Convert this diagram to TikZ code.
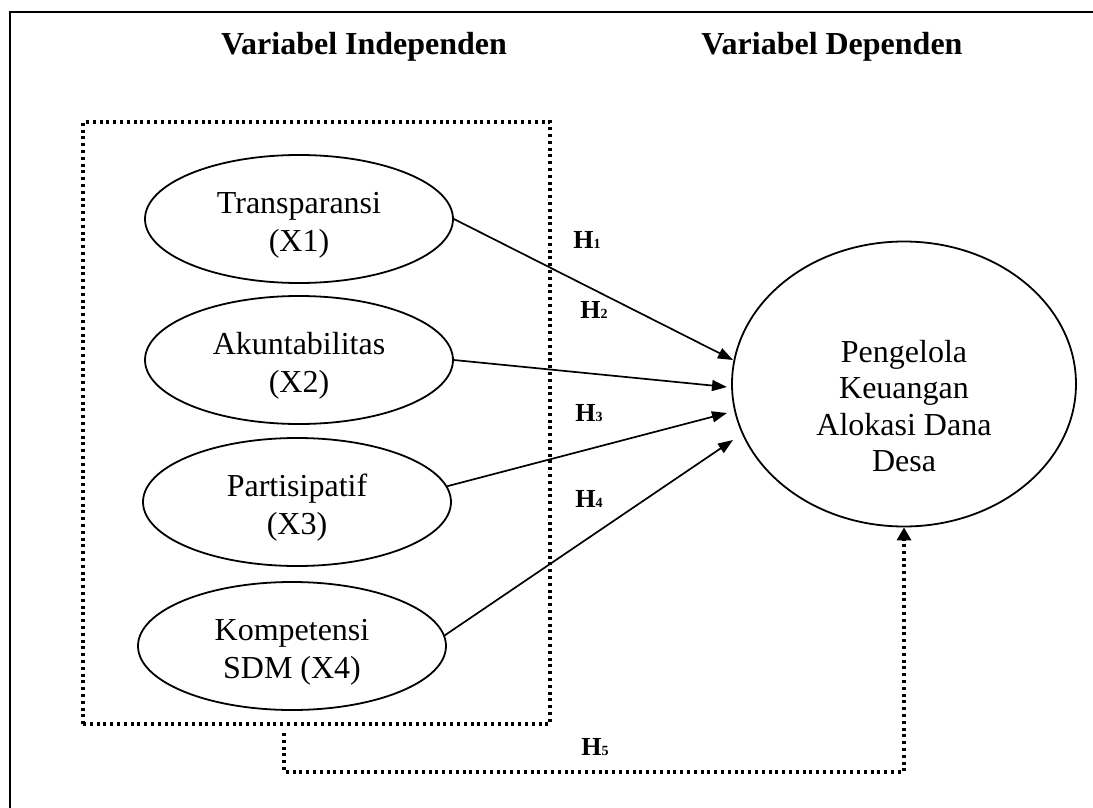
\documentclass[tikz,border=0pt]{standalone}
\usepackage{fontspec}
\setmainfont{Liberation Serif}
\usetikzlibrary{shapes.geometric, arrows.meta, positioning}

\newcommand{\Hsub}[1]{H{\fontsize{7}{7}\selectfont #1}}
\newcommand{\topgap}{\rule{0pt}{17pt}}

\begin{document}
\begin{tikzpicture}[
  x=0.5pt, y=-0.5pt,
  var/.style={draw, ellipse, line width=0.9pt, minimum width=154pt, minimum height=64pt, inner sep=0pt, align=center, font=\fontsize{16}{19}\selectfont},
  depvar/.style={draw, ellipse, line width=0.9pt, minimum width=172pt, minimum height=142.5pt, inner sep=0pt},
  title/.style={anchor=base, inner sep=0pt, font=\fontsize{16}{19}\selectfont\bfseries},
  hyp/.style={anchor=base, inner sep=0pt, font=\fontsize{13}{15}\selectfont\bfseries},
  group/.style={draw, line width=1.6pt, dash pattern=on 1.5pt off 1.9pt, minimum width=233.5pt, minimum height=301pt, inner sep=0pt},
  arrow/.style={-{Triangle[length=7.5pt, width=5.5pt]}, line width=0.85pt},
  dotarrow/.style={-{Triangle[length=6.5pt, width=7pt]}, line width=1.6pt, dash pattern=on 1.5pt off 1.9pt}
]
  \useasboundingbox (0,0) rectangle (1093,808);
  \draw[line width=1.1pt] (10,808) -- (10,12) -- (1093,12);

  \node[title] (indeptitle) at (364,55) {Variabel Independen};
  \node[title] (deptitle) at (832,55) {Variabel Dependen};

  \node[group] (grp) at (316.5,423) {};

  \node[var] (x1) at (299,219) {\topgap Transparansi\\(X1)};
  \node[var] (x2) at (299,360) {\topgap Akuntabilitas\\(X2)};
  \node[var] (x3) at (297,502) {\topgap Partisipatif\\(X3)};
  \node[var] (x4) at (292,646) {\topgap Kompetensi\\SDM (X4)};

  \node[depvar] (dep) at (904,384) {};
  \node[align=center, font=\fontsize{16}{18.3}\selectfont] (deptext) at (904,406) {Pengelola\\Keuangan\\Alokasi Dana\\Desa};

  \coordinate (in1) at (733,360);
  \coordinate (in2) at (727,387);
  \coordinate (in3) at (727,413);
  \coordinate (in4) at (733,440);

  \draw[arrow] (x1.east) -- (in1);
  \draw[arrow] (x2.east) -- (in2);
  \draw[arrow] (x3.6) -- (in3);
  \draw[arrow] (x4.4) -- (in4);

  \node[hyp] (h1) at (587,249) {\Hsub{1}};
  \node[hyp] (h2) at (594,318) {\Hsub{2}};
  \node[hyp] (h3) at (589,421) {\Hsub{3}};
  \node[hyp] (h4) at (589,507) {\Hsub{4}};
  \node[hyp] (h5) at (595,755) {\Hsub{5}};

  \coordinate (h5start) at (284,733);
  \coordinate (h5turn) at (284,772);
  \draw[dotarrow] (h5start) -- (h5turn) -| (dep.south);
\end{tikzpicture}
\end{document}
